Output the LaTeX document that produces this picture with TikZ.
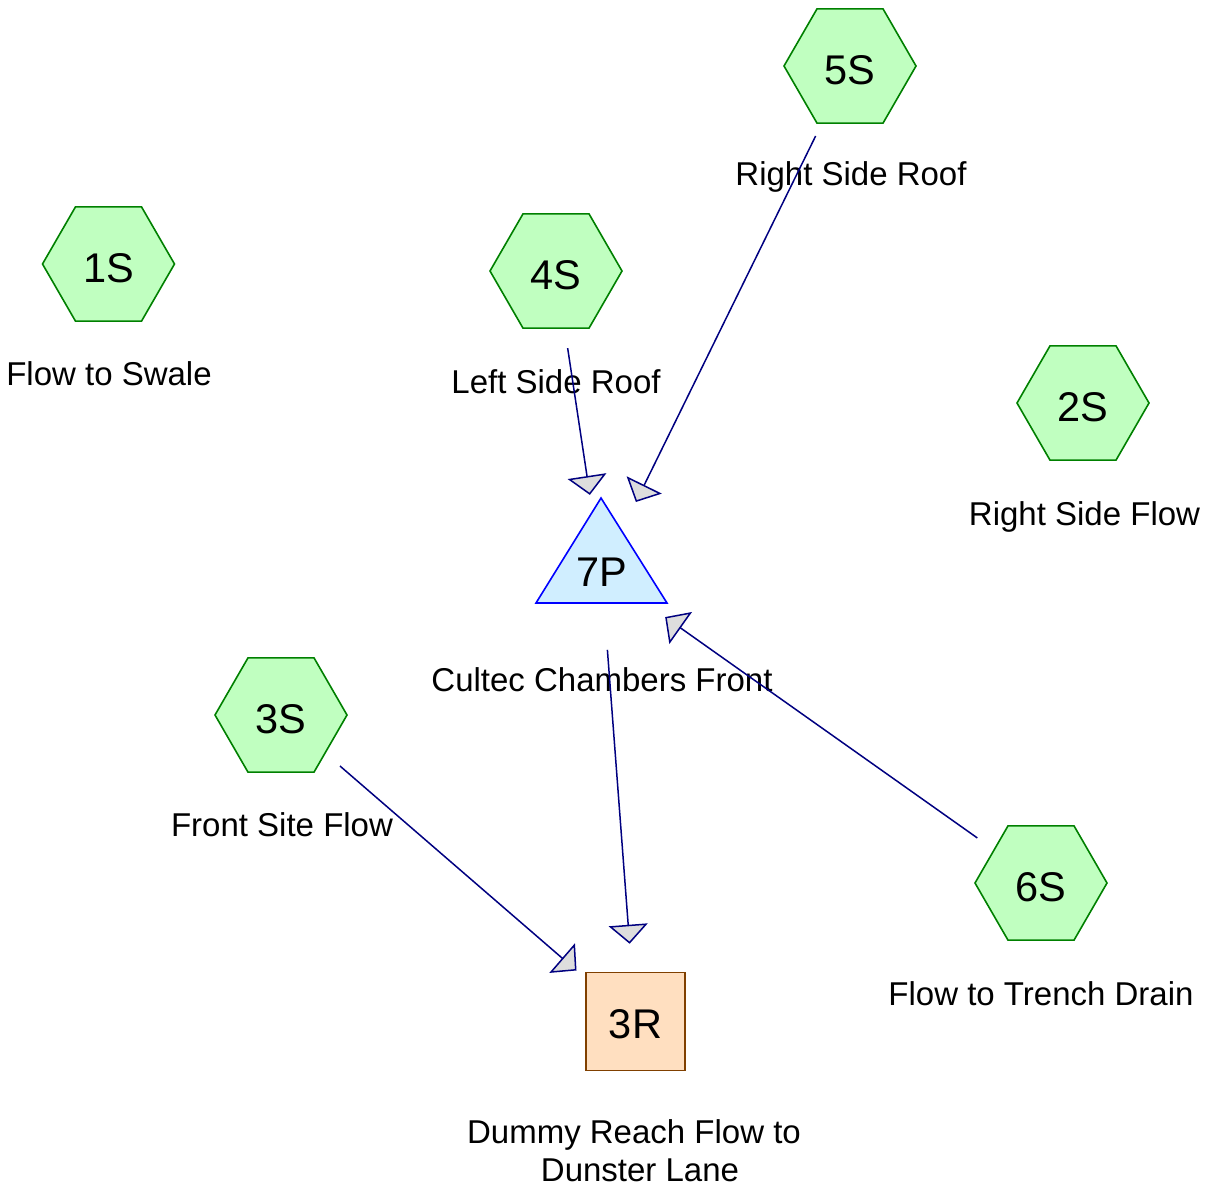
\documentclass[tikz,border=0pt]{standalone}
\usepackage{fontspec}
\setmainfont{Liberation Sans}
\usetikzlibrary{shapes.geometric,arrows.meta}

\definecolor{subfill}{RGB}{192,255,192}
\definecolor{subdraw}{RGB}{0,128,0}
\definecolor{pondfill}{RGB}{208,238,255}
\definecolor{ponddraw}{RGB}{0,0,255}
\definecolor{reachfill}{RGB}{255,223,192}
\definecolor{reachdraw}{RGB}{128,64,0}
\definecolor{linkcol}{RGB}{0,0,128}
\definecolor{tipfill}{RGB}{221,221,221}

\tikzset{
  subcat/.style={regular polygon, regular polygon sides=6, minimum size=132pt,
    inner sep=0pt, outer sep=0pt, draw=subdraw, fill=subfill, line width=1.6pt,
    text height=37pt, text depth=0pt, font=\fontsize{41.5}{48}\selectfont},
  reach/.style={rectangle, minimum width=99pt, minimum height=98pt, inner sep=0pt,
    draw=reachdraw, fill=reachfill, line width=1.6pt,
    text height=33pt, text depth=0pt, font=\fontsize{41.5}{48}\selectfont},
  pondtext/.style={inner sep=0pt, font=\fontsize{41.5}{48}\selectfont},
  lbl/.style={anchor=base, inner sep=0pt, font=\fontsize{33}{39}\selectfont},
  link/.style={draw=linkcol, line width=1.5pt, shorten <=78pt, shorten >=78pt,
    -{Triangle[length=19pt, width=39pt, open, fill=tipfill, line width=1.5pt]}},
}

\begin{document}
\begin{tikzpicture}[x=1pt, y=-1pt]
  \useasboundingbox (0,0) rectangle (1209,1194);

  % catchments
  \node[subcat] (s1) at (108.5,264) {1S};
  \node[subcat] (s2) at (1083,403) {2S};
  \node[subcat] (s3) at (281,715) {3S};
  \node[subcat] (s4) at (556,271) {4S};
  \node[subcat] (s5) at (850,66) {5S};
  \node[subcat] (s6) at (1041,883) {6S};

  % pond
  \path[draw=ponddraw, fill=pondfill, line width=1.6pt]
    (601,498) -- (536,603) -- (667,603) -- cycle;
  \node[pondtext] (p7) at (601.5,572) {7P};

  % reach
  \node[reach] (r3) at (635.5,1021.5) {3R};

  % labels
  \node[lbl] (l1) at (109,385) {Flow to Swale};
  \node[lbl] (l2) at (1084.5,525) {Right Side Flow};
  \node[lbl] (l3) at (282,836.5) {Front Site Flow};
  \node[lbl] (l4) at (556,393) {Left Side Roof};
  \node[lbl] (l5) at (851,185) {Right Side Roof};
  \node[lbl] (l6) at (1041,1005) {Flow to Trench Drain};
  \node[lbl] (l7) at (602,691.5) {Cultec Chambers Front};
  \node[lbl] (l8) at (634,1143.3) {Dummy Reach Flow to};
  \node[lbl] (l9) at (640,1181) {Dunster Lane};

  % routing links
  \draw[link] (s4.center) -- (p7.center);
  \draw[link] (s5.center) -- (p7.center);
  \draw[link] (s6.center) -- (p7.center);
  \draw[link] (s3.center) -- (r3.center);
  \draw[link] (p7.center) -- (r3.center);
\end{tikzpicture}
\end{document}
